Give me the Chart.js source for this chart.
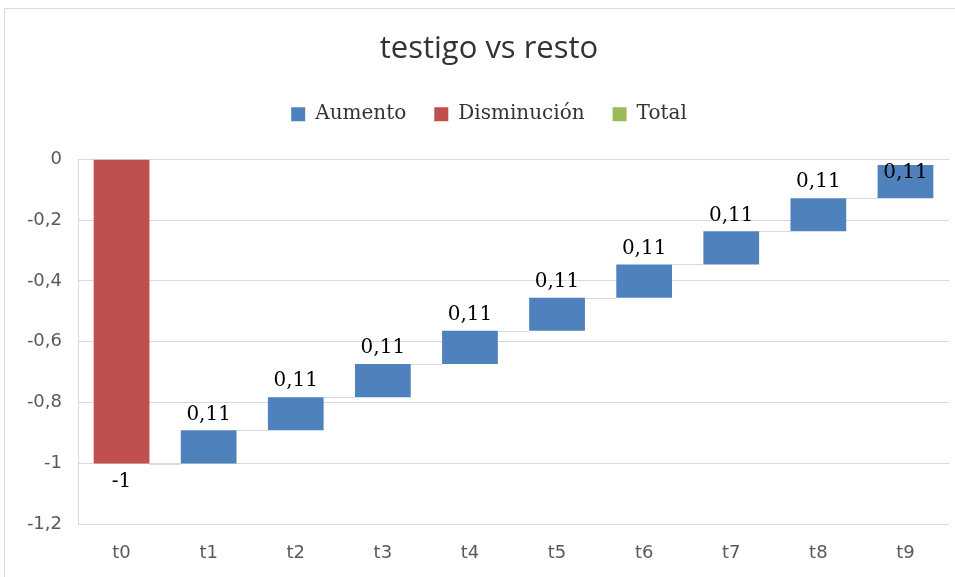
<!DOCTYPE html>
<html>
<head>
<meta charset="utf-8">
<script src="https://cdn.jsdelivr.net/npm/chart.js@4.4.0/dist/chart.umd.min.js"></script>
<style>
  html, body { margin: 0; padding: 0; background: #fff; overflow: hidden; }
  #box {
    position: absolute; left: 4px; top: 8px;
    width: 968px; height: 573px;
    border-left: 1px solid #d9d9d9; border-top: 1px solid #d9d9d9;
  }
  canvas { display: block; }
</style>
</head>
<body>
<div id="box"><canvas id="waterfall" width="968" height="573"></canvas></div>
<script>
// datos del gráfico
const categories = ['t0', 't1', 't2', 't3', 't4', 't5', 't6', 't7', 't8', 't9'];
const changes = [-1, 0.109, 0.109, 0.109, 0.109, 0.109, 0.109, 0.109, 0.109, 0.109];
const yTicks = [0, -0.2, -0.4, -0.6, -0.8, -1, -1.2];

const BLUE = '#4f81bd';
const RED = '#c0504d';
const GREEN = '#9bbb59';

// acumulado para las barras flotantes
const starts = [];
const ends = [];
let acc = 0;
changes.forEach((v) => {
  starts.push(acc);
  acc += v;
  ends.push(acc);
});

const upData = changes.map((v, i) => (v >= 0 ? [starts[i], ends[i]] : null));
const downData = changes.map((v, i) => (v < 0 ? [starts[i], ends[i]] : null));
const totalData = changes.map(() => null);

const fmt = new Intl.NumberFormat('es-ES', { maximumFractionDigits: 2 });

// alto extra debajo de la leyenda
const legendGap = {
  id: 'legendGap',
  beforeInit(chart) {
    const orig = chart.legend.fit;
    chart.legend.fit = function () {
      orig.bind(chart.legend)();
      this.height += 25;
    };
  },
};

// lineas de conexion entre barras
const connectors = {
  id: 'connectors',
  beforeDatasetsDraw(chart) {
    const { ctx } = chart;
    const y = chart.scales.y;
    const barAt = (i) => {
      for (let d = 0; d < chart.data.datasets.length; d++) {
        const el = chart.getDatasetMeta(d).data[i];
        if (chart.data.datasets[d].data[i] && el) return el;
      }
      return null;
    };
    ctx.save();
    ctx.strokeStyle = '#d9d9d9';
    ctx.lineWidth = 1;
    for (let i = 0; i < categories.length - 1; i++) {
      const a = barAt(i), b = barAt(i + 1);
      if (!a || !b) continue;
      const py = Math.round(y.getPixelForValue(ends[i])) + 0.5;
      ctx.beginPath();
      ctx.moveTo(a.x + a.width / 2, py);
      ctx.lineTo(b.x - b.width / 2, py);
      ctx.stroke();
    }
    ctx.restore();
  },
};

// etiquetas de datos
const dataLabels = {
  id: 'dataLabels',
  afterDatasetsDraw(chart) {
    const { ctx, chartArea } = chart;
    const y = chart.scales.y;
    const x = chart.scales.x;
    ctx.save();
    ctx.font = '20px "DejaVu Serif"';
    ctx.fillStyle = '#000';
    ctx.textAlign = 'center';
    ctx.textBaseline = 'top';
    changes.forEach((v, i) => {
      const cx = x.getPixelForValue(i);
      const txt = fmt.format(v);
      const h = 22;
      let ty;
      if (v >= 0) {
        ty = y.getPixelForValue(ends[i]) - h - 4;
        if (ty < chartArea.top + 4) ty = chartArea.top + 4;
      } else {
        ty = y.getPixelForValue(ends[i]) + 8;
      }
      ctx.fillText(txt, cx, ty);
    });
    ctx.restore();
  },
};

new Chart(document.getElementById('waterfall'), {
  type: 'bar',
  data: {
    labels: categories,
    datasets: [
      { label: 'Aumento', data: upData, backgroundColor: BLUE, borderWidth: 0, grouped: false },
      { label: 'Disminución', data: downData, backgroundColor: RED, borderWidth: 0, grouped: false },
      { label: 'Total', data: totalData, backgroundColor: GREEN, borderWidth: 0, grouped: false },
    ],
  },
  options: {
    responsive: false,
    animation: false,
    datasets: { bar: { barPercentage: 0.64, categoryPercentage: 1 } },
    layout: { padding: 0 },
    plugins: {
      title: {
        display: true,
        text: 'testigo vs resto',
        color: '#333333',
        font: { family: '"Open Sans"', size: 31, weight: 'normal' },
        padding: { top: 22, bottom: 8 },
      },
      legend: {
        display: true,
        position: 'top',
        labels: {
          color: '#333333',
          font: { family: '"DejaVu Serif"', size: 20 },
          boxWidth: 14,
          boxHeight: 14,
          padding: 28,
        },
      },
      tooltip: { enabled: false },
    },
    scales: {
      x: {
        grid: { display: false, drawTicks: false },
        border: { display: false },
        ticks: {
          color: '#595959',
          font: { family: '"DejaVu Sans"', size: 18 },
          padding: 18,
        },
      },
      y: {
        min: -1.2,
        max: 0,
        afterBuildTicks(scale) {
          scale.ticks = yTicks.map((v) => ({ value: v }));
        },
        afterFit(scale) {
          scale.width = 73;
        },
        grid: { color: '#d9d9d9', drawTicks: false },
        border: { display: true, color: '#d9d9d9' },
        ticks: {
          color: '#595959',
          font: { family: '"DejaVu Sans"', size: 18 },
          padding: 16,
          callback: (v) => fmt.format(v),
        },
      },
      // margen derecho del área de trazado
      yRight: {
        position: 'right',
        afterFit(scale) {
          scale.width = 24;
        },
        grid: { display: false, drawTicks: false },
        border: { display: false },
        ticks: { display: false },
      },
    },
  },
  plugins: [legendGap, connectors, dataLabels],
});
</script>
</body>
</html>
